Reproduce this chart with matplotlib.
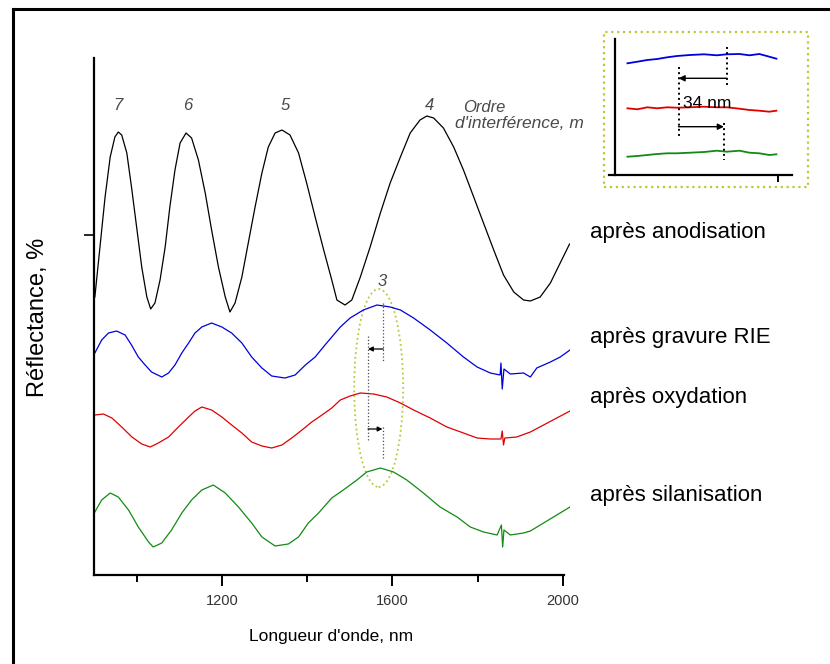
import matplotlib
matplotlib.use("Agg")
from matplotlib import pyplot as plt
from matplotlib.patches import Ellipse, Rectangle
from matplotlib.lines import Line2D

plt.rcParams['font.family'] = ['Liberation Sans', 'DejaVu Sans']

# spectres (longueur d'onde en nm, reflectance en u.a.)
wl_anod = [902, 914, 926, 938, 949, 957, 965, 977, 988, 1000, 1012, 1024, 1033, 1043, 1055,
           1067, 1078, 1090, 1102, 1116, 1129, 1145, 1161, 1176, 1192, 1208, 1219, 1231, 1247,
           1262, 1278, 1294, 1309, 1325, 1341, 1360, 1380, 1399, 1419, 1439, 1458, 1470, 1489,
           1505, 1525, 1548, 1572, 1595, 1619, 1642, 1665, 1681, 1697, 1720, 1744, 1767, 1791,
           1814, 1838, 1861, 1885, 1908, 1924, 1947, 1971, 1994, 2016]
r_anod = [27.8, 32.8, 37.8, 41.8, 43.8, 44.3, 44.0, 42.2, 38.8, 34.8, 30.8, 27.8, 26.6, 27.2, 29.5,
          32.8, 36.8, 40.5, 43.2, 44.2, 43.7, 41.5, 38.2, 34.5, 30.8, 27.8, 26.3, 27.2, 29.8,
          33.2, 36.8, 40.2, 42.8, 44.2, 44.5, 44.0, 42.2, 39.2, 35.8, 32.5, 29.5, 27.5, 27.0,
          27.5, 29.8, 32.8, 36.2, 39.2, 41.8, 44.2, 45.5, 45.9, 45.7, 44.7, 42.8, 40.5, 37.8,
          35.2, 32.5, 30.0, 28.3, 27.5, 27.4, 27.8, 29.2, 31.2, 33.1]

wl_rie = [902, 918, 934, 953, 973, 988, 1004, 1020, 1035, 1059, 1075, 1090, 1106, 1122, 1137,
          1153, 1176, 1200, 1223, 1247, 1270, 1294, 1317, 1348, 1372, 1396, 1419, 1442, 1466,
          1478, 1501, 1532, 1564, 1595, 1619, 1650, 1689, 1728, 1767, 1799, 1830, 1853, 1855,
          1858, 1862, 1877, 1908, 1924, 1939, 1971, 1994, 2017]
r_rie = [22.2, 23.5, 24.2, 24.4, 24.0, 23.0, 21.8, 21.0, 20.3, 19.8, 20.2, 21.0, 22.2, 23.2, 24.2,
         24.8, 25.2, 24.8, 24.2, 23.2, 21.8, 20.7, 19.9, 19.7, 20.0, 21.0, 21.8, 23.0, 24.2,
         24.8, 25.7, 26.5, 27.0, 26.8, 26.5, 25.7, 24.5, 23.2, 21.8, 20.8, 20.2, 20.0, 21.2,
         18.6, 20.6, 20.1, 20.2, 19.8, 20.7, 21.3, 21.8, 22.5]

wl_oxy = [902, 922, 942, 965, 989, 1012, 1032, 1051, 1075, 1098, 1122, 1137, 1153, 1176, 1200,
          1223, 1247, 1270, 1294, 1317, 1341, 1364, 1388, 1411, 1435, 1458, 1478, 1501, 1525,
          1556, 1587, 1619, 1650, 1689, 1728, 1767, 1799, 1830, 1855, 1858, 1861, 1864, 1892,
          1924, 1955, 1986, 2017]
r_oxy = [16.0, 16.1, 15.7, 14.8, 13.8, 13.1, 12.8, 13.2, 13.8, 14.8, 15.8, 16.4, 16.8, 16.5, 15.8,
         15.0, 14.2, 13.3, 12.9, 12.7, 13.0, 13.7, 14.5, 15.3, 16.0, 16.7, 17.5, 17.9, 18.2,
         18.1, 17.8, 17.2, 16.5, 15.7, 14.8, 14.2, 13.7, 13.6, 13.6, 14.4, 13.0, 13.7, 13.8,
         14.3, 15.0, 15.7, 16.4]

wl_sil = [902, 918, 938, 957, 981, 1004, 1028, 1039, 1059, 1082, 1106, 1129, 1153, 1180, 1208,
          1239, 1270, 1294, 1325, 1356, 1380, 1403, 1427, 1458, 1485, 1517, 1540, 1572, 1603,
          1634, 1673, 1712, 1752, 1783, 1814, 1846, 1856, 1859, 1862, 1877, 1908, 1924, 1955,
          1986, 2017]
r_sil = [6.3, 7.5, 8.2, 7.8, 6.5, 4.8, 3.3, 2.8, 3.2, 4.5, 6.2, 7.5, 8.5, 9.0, 8.2,
         6.8, 5.2, 3.8, 2.9, 3.1, 3.8, 5.2, 6.2, 7.7, 8.5, 9.5, 10.3, 10.7, 10.3,
         9.5, 8.2, 6.8, 5.8, 4.8, 4.3, 4.0, 5.0, 2.8, 4.5, 4.0, 4.2, 4.4, 5.2,
         6.0, 6.8]

ordres = ['7', '6', '5', '4']
pics_nm = [956, 1121, 1348, 1687]
etiquettes = ['après anodisation', 'après gravure RIE', 'après oxydation', 'après silanisation']

# encart : zoom autour de l'ordre 3
wl_zoom = [1510, 1517, 1524, 1531, 1538, 1545, 1554, 1564, 1573, 1580, 1589, 1596, 1603, 1610, 1615]
zoom_rie = [111.7, 113.3, 115, 116, 117.7, 119, 120, 120.7, 119.7, 120.7, 121, 119.7, 121, 118.3, 116.3]
zoom_oxy = [66.7, 65.7, 67.7, 66.7, 67.7, 67.3, 67.7, 68.3, 67.7, 67.7, 66.3, 65, 64.3, 63.3, 64.3]
zoom_sil = [18.3, 19, 20, 21, 21.7, 21.7, 22.3, 23, 24.3, 23.3, 24.3, 22.3, 21.7, 20, 20.7]
decalage = 34

jaune = '#bfc63a'
gris = '#4a4a4a'

fig = plt.figure(figsize=(8.3, 6.64), dpi=100)
ax = fig.add_axes([94/830, 89/664, 476/830, 517/664])

ax.plot(wl_anod, r_anod, color='black', lw=0.9)
ax.plot(wl_rie, r_rie, color='#0000dd', lw=0.9)
ax.plot(wl_oxy, r_oxy, color='#e00000', lw=0.9)
ax.plot(wl_sil, r_sil, color='#138a13', lw=0.9)

ax.set_xlim(900, 2017)
ax.set_ylim(0, 51.7)
for s in ['top', 'right']:
    ax.spines[s].set_visible(False)
for s in ['left', 'bottom']:
    ax.spines[s].set_linewidth(1.6)
ax.spines['bottom'].set_bounds(900, 2004)
ax.set_xticks([1200, 1600, 2000])
ax.set_xticks([1000, 1400, 1800], minor=True)
ax.set_yticks([34])
ax.set_yticklabels([])
ax.tick_params(axis='x', which='major', length=8, width=1.4, labelsize=10.5, labelcolor='#333333', pad=6)
ax.tick_params(axis='x', which='minor', length=5, width=1.4)
ax.tick_params(axis='y', length=7, width=1.2)

for o, x in zip(ordres, pics_nm):
    ax.text(x, 47.0, o, ha='center', va='center', style='italic', fontsize=12, color=gris)
ax.text(1766, 46.8, 'Ordre', ha='left', va='center', style='italic', fontsize=12, color=gris)
ax.text(1748, 45.2, "d'interférence, m", ha='left', va='center', style='italic', fontsize=12.5, color=gris)
ax.text(1576, 29.4, '3', ha='center', va='center', style='italic', fontsize=12, color=gris)

# ellipse et décalage autour du pic 3
ax.add_patch(Ellipse((1568, 18.7), 115, 19.8, fill=False, ls=':', ec=jaune, lw=1.3))
ax.plot([1543, 1543], [23.9, 13.5], ls=':', color=gris, lw=0.9)
ax.plot([1579, 1579], [27.2, 21.3], ls=':', color=gris, lw=0.9)
ax.plot([1579, 1579], [14.8, 11.5], ls=':', color=gris, lw=0.9)
ax.annotate('', xy=(1543, 22.6), xytext=(1579, 22.6),
            arrowprops=dict(arrowstyle='-|>', color='black', lw=0.9, mutation_scale=7, shrinkA=0, shrinkB=0))
ax.annotate('', xy=(1577, 14.6), xytext=(1543, 14.6),
            arrowprops=dict(arrowstyle='-|>', color='black', lw=0.9, mutation_scale=7, shrinkA=0, shrinkB=0))

for txt, y in zip(etiquettes, [233, 337, 397, 495]):
    fig.text(590/830, 1 - y/664, txt, ha='left', va='center', fontsize=16)

fig.text(38/830, 1 - 317/664, 'Réflectance, %', rotation=90, ha='center', va='center', fontsize=17)
fig.text(331/830, 1 - 636/664, "Longueur d'onde, nm", ha='center', va='center', fontsize=12.5)

# encart
fig.patches.append(Rectangle((604/830, 1 - 186.7/664), 204/830, 155/664, transform=fig.transFigure,
                             fill=False, ls=':', ec=jaune, lw=1.6))
axi = fig.add_axes([609/830, 1 - 175/664, 183/830, 136/664])
axi.plot(wl_zoom, zoom_rie, color='#0000dd', lw=1.3)
axi.plot(wl_zoom, zoom_oxy, color='#e00000', lw=1.3)
axi.plot(wl_zoom, zoom_sil, color='#138a13', lw=1.3)
axi.set_xlim(1497, 1626)
axi.set_ylim(0, 136)
for s in ['top', 'right']:
    axi.spines[s].set_visible(False)
axi.spines['left'].set_position(('data', 1501))
axi.spines['left'].set_linewidth(1.6)
axi.spines['bottom'].set_linewidth(1.6)
axi.set_xticks([1616])
axi.set_xticklabels([])
axi.set_yticks([])
axi.tick_params(axis='x', length=5, width=1.4)
axi.plot([1546, 1546], [108, 37], ls=':', color='black', lw=1.4)
axi.plot([1546 + decalage, 1546 + decalage], [128, 88], ls=':', color='black', lw=1.4)
axi.plot([1578, 1578], [52, 15], ls=':', color='black', lw=1.4)
axi.annotate('', xy=(1546, 96.7), xytext=(1546 + decalage, 96.7),
             arrowprops=dict(arrowstyle='-|>', color='black', lw=1.0, mutation_scale=9, shrinkA=0, shrinkB=0))
axi.annotate('', xy=(1578, 48.3), xytext=(1546, 48.3),
             arrowprops=dict(arrowstyle='-|>', color='black', lw=1.0, mutation_scale=9, shrinkA=0, shrinkB=0))
axi.text(1549, 72, '%d nm' % decalage, ha='left', va='center', fontsize=12.5)

# cadre de la figure
fig.add_artist(Line2D([13/830, 13/830], [0, 1 - 9/664], transform=fig.transFigure, color='black', lw=2.2))
fig.add_artist(Line2D([13/830, 1], [1 - 9/664, 1 - 9/664], transform=fig.transFigure, color='black', lw=2.2))

fig.savefig('out.png', dpi=100)
